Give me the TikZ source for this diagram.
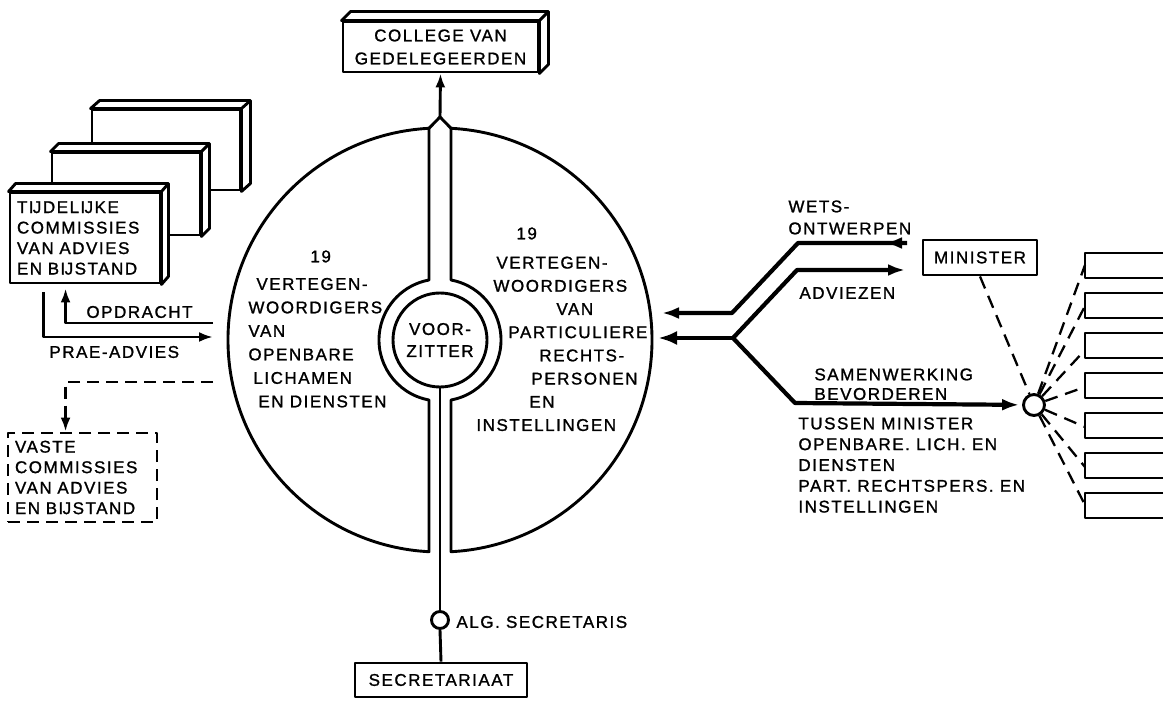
\documentclass[tikz,border=0pt]{standalone}
\usepackage{fontspec}
\setmainfont{Liberation Sans}[LetterSpace=9,FakeBold=1.2]
\usetikzlibrary{arrows.meta,calc}
\newcommand\slab[3]{\draw[fill=white,line join=round] (#1.north west) -- ++(#2,#3) -- ($(#1.north east)+(#2,#3)$) -- ($(#1.south east)+(#2,#3)$) -- (#1.south east) -- (#1.north east) -- cycle (#1.north east) -- ++(#2,#3);}
\begin{document}
\begin{tikzpicture}[x=1pt,y=-1pt,line width=2.9pt,line join=round,
  lbl/.style={inner sep=0pt,font=\fontsize{17}{22}\selectfont,align=left},
  box/.style={draw,fill=white,inner sep=0pt},
  arr/.style={-{Latex[length=14pt,width=10pt]}},
  bigarr/.style={line width=4.2pt,-{Latex[length=17pt,width=12pt]}},
  dsh/.style={dash pattern=on 12pt off 7pt},
  dshr/.style={line width=2.3pt,dash pattern=on 13pt off 8pt}]
\useasboundingbox (0,0) rectangle (1171,703);

% ---- central circle ----
\draw (451,128.3) arc[start angle=87.03,end angle=-87.03,radius=212pt] -- (451,400)
      arc[start angle=-79.61,end angle=79.61,radius=61pt] -- cycle;
\draw (429,128.3) arc[start angle=92.97,end angle=267.03,radius=212pt] -- (429,400)
      arc[start angle=259.61,end angle=100.39,radius=61pt] -- cycle;
\coordinate (pk) at (440,117);
\draw (429,128.3) -- (pk) -- (451,128.3);
\node[draw,circle,minimum size=94pt,inner sep=0pt,lbl,align=center] (vz) at (440,340) {VOOR-\\ZITTER};

% ---- college ----
\node[box,minimum width=195pt,minimum height=50pt,lbl,align=center,font=\fontsize{17}{23}\selectfont] (col) at (440.5,47) {COLLEGE VAN\\GEDELEGEERDEN};
\slab{col}{9}{-9}
\draw[arr] (pk) -- (col.south);

% ---- secretariat ----
\node[draw,circle,minimum size=17pt,inner sep=0pt,fill=white] (alg) at (440,620) {};
\node[box,minimum width=172pt,minimum height=34pt,lbl] (sec) at (441,680) {SECRETARIAAT};
\draw (vz.south) -- (alg.north);
\draw (alg.south) -- (sec.north);
\node[lbl,anchor=west] (algt) at (455,622) {ALG. SECRETARIS};

% ---- circle texts ----
\node[lbl,anchor=north west,font=\fontsize{17}{23.5}\selectfont] (lt) at (247,249)
 {\hspace*{62pt}19\\[4pt]\hspace*{8pt}VERTEGEN-\\WOORDIGERS\\VAN\\OPENBARE\\\hspace*{5pt}LICHAMEN\\\hspace*{10pt}EN DIENSTEN};
\node[lbl,anchor=north west,font=\fontsize{17}{23.2}\selectfont] (rt) at (475,226)
 {\hspace*{40pt}19\\[6pt]\hspace*{20pt}VERTEGEN-\\\hspace*{17pt}WOORDIGERS\\\hspace*{80pt}VAN\\\hspace*{32pt}PARTICULIERE\\\hspace*{63pt}RECHTS-\\\hspace*{55pt}PERSONEN\\\hspace*{53pt}EN\\INSTELLINGEN};

% ---- temporary commissions ----
\node[box,minimum width=148pt,minimum height=80pt] (t1) at (166,150) {};
\slab{t1}{9}{-8}
\node[box,minimum width=148pt,minimum height=82pt] (t2) at (126,194) {};
\slab{t2}{8}{-8}
\node[box,minimum width=150pt,minimum height=90pt,lbl,text width=136pt,font=\fontsize{17}{20.5}\selectfont] (t3) at (85,238)
 {TĲDELĲKE\\COMMISSIES\\VAN ADVIES\\EN BĲSTAND};
\slab{t3}{7}{-8}

% ---- permanent commissions ----
\node[draw,dsh,minimum width=149pt,minimum height=89pt,inner sep=0pt,lbl,text width=135pt,font=\fontsize{17}{20.5}\selectfont] (va) at (82.5,477.5)
 {VASTE\\COMMISSIES\\VAN ADVIES\\EN BĲSTAND};

% ---- left connectors ----
\coordinate (op) at (213,323);
\coordinate (pa) at (213,337);
\coordinate (ds) at (213,382);
\draw[arr,shorten >=4pt] (op) -| ($(t3.south west)+(57,0)$);
\draw[arr] ($(t3.south west)+(35,8)$) |- (pa);
\draw[arr,dsh] (ds) -| ($(va.north west)+(59,0)$);
\node[lbl,anchor=west] (opl) at (85,312) {OPDRACHT};
\node[lbl,anchor=west] (pal) at (48,352) {PRAE-ADVIES};

% ---- minister side ----
\node[box,minimum width=114pt,minimum height=35pt,lbl] (min) at (980,257.5) {MINISTER};
\node[draw,circle,minimum size=21pt,inner sep=0pt,fill=white] (sc) at (1034,405) {};
\coordinate (bp) at (733,338);
\coordinate (wR) at (907,243);
\coordinate (wL) at (662,313);
\coordinate (aR) at (905,270);
\coordinate (aL) at (658,338);
\draw[bigarr] (wR) -- (798,243) -- (732,313) -- (wL);
\draw[bigarr] (wR) -- ++(-22,0);
\draw[bigarr,-{Latex[length=19pt,width=14pt]}] (bp) -- (aL);
\draw[bigarr] (bp) -- (797,270) -- (aR);
\draw[bigarr,shorten >=3pt] (bp) -- (795,403) -- (sc);
\draw[dshr] (min.south) -- (sc);

\node[lbl,anchor=north west] (wl) at (787,199) {WETS-\\ONTWERPEN};
\node[lbl,anchor=west] (adl) at (798,293) {ADVIEZEN};
\node[lbl,anchor=north west,font=\fontsize{17}{19.5}\selectfont] (sml) at (813,367) {SAMENWERKING\\BEVORDEREN};
\node[lbl,anchor=north west,font=\fontsize{17}{20.8}\selectfont] (tsl) at (797,416)
 {TUSSEN MINISTER\\OPENBARE. LICH. EN\\DIENSTEN\\PART. RECHTSPERS. EN\\INSTELLINGEN};

% ---- right open boxes ----
\foreach \i/\e in {0/265,1/306,2/350,3/387,4/427,5/467,6/505} {
  \draw[line width=2.3pt] (1163,253+40*\i) -| (1085,278+40*\i) -- (1163,278+40*\i);
  \coordinate (r\i) at (1085,\e);
  \draw[dshr] (sc) -- (r\i);
}
\end{tikzpicture}
\end{document}
